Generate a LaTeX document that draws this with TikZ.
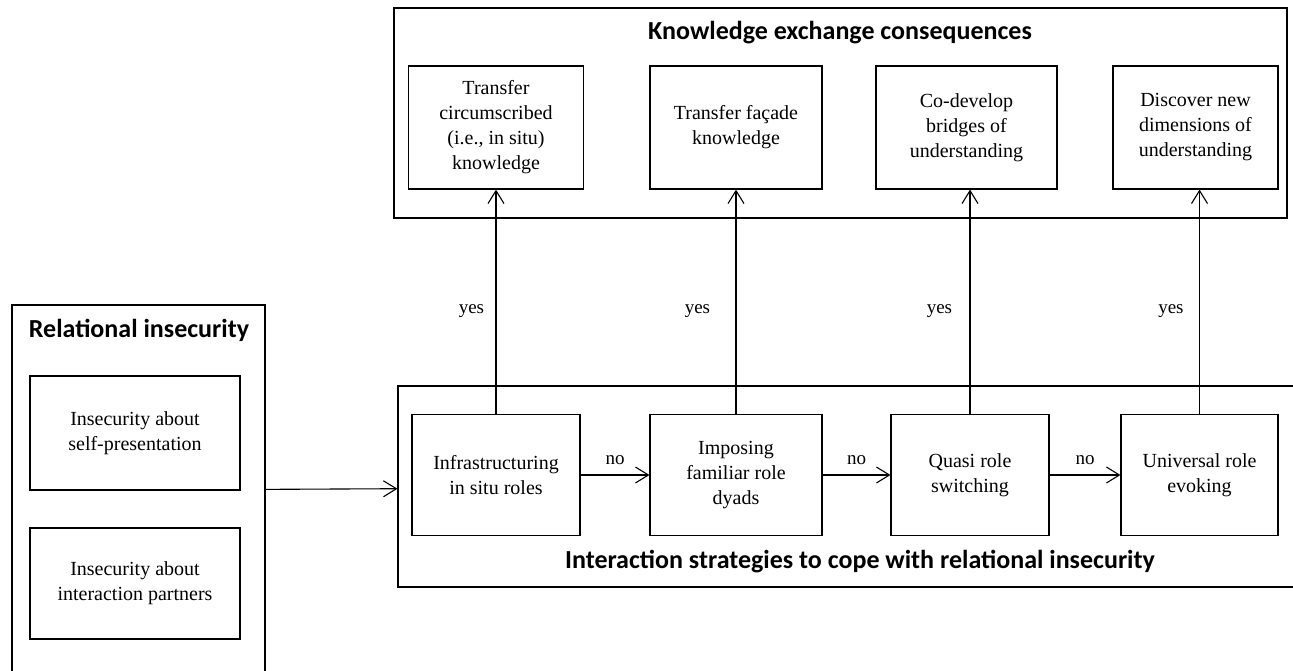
\documentclass[tikz,border=0pt]{standalone}
\usepackage{fontspec}
\setmainfont{Liberation Serif}
\newfontfamily\calibri{Carlito}
\usetikzlibrary{arrows.meta}
\tikzset{>={Straight Barb[length=13pt,width=16pt]},
  base/.style = {
    rectangle, draw=black, line width=1.1pt, align=center,
    font=\fontsize{20}{25}\selectfont
  },
  frame/.style = {base},
  box/.style = {base, minimum height=121pt},
  heading/.style = {font=\calibri\bfseries\fontsize{26}{30}\selectfont},
  lbl/.style = {font=\fontsize{19}{22}\selectfont},
}
\begin{document}
\begin{tikzpicture}[x=1pt, y=-1pt, line width=1.1pt, node distance=240pt]
  \useasboundingbox (0,0) rectangle (1293,671);
  \node (rel) [frame, minimum width=253pt, minimum height=370pt] at (138.5,490) {};
  \node (rel_t) [heading] at (139,330) {Relational insecurity};
  \node (self) [base, minimum width=210pt, minimum height=114pt] at (135,433) {Insecurity about\\self-presentation};
  \node (part) [base, minimum width=210pt, minimum height=111pt, below of=self, node distance=150.5pt] {Insecurity about\\interaction partners};
  \node (strat) [frame, minimum width=898pt, minimum height=201pt] at (847,486.5) {};
  \node (strat_t) [heading] at (860,562) {Interaction strategies to cope with relational insecurity};
  \node (infra) [box, minimum width=168pt] at (496,475) {Infrastructuring\\in situ roles};
  \node (impo) [box, minimum width=172pt, right of=infra] {Imposing\\familiar role\\dyads};
  \node (quasi) [box, minimum width=158pt, right of=impo, node distance=234pt] {Quasi role\\switching};
  \node (univ) [box, minimum width=157pt, right of=quasi, node distance=229.5pt] {Universal role\\evoking};
  \node (know) [frame, minimum width=893pt, minimum height=210pt] at (840.5,113) {};
  \node (know_t) [heading] at (840,33) {Knowledge exchange consequences};
  \node (tcir) [box, minimum width=175pt, minimum height=123pt, above of=infra, node distance=347.5pt] {Transfer\\circumscribed\\(i.e., in situ)\\knowledge};
  \node (tfac) [box, minimum width=172pt, minimum height=123pt, above of=impo, node distance=347.5pt] {Transfer façade\\knowledge};
  \node (tbri) [box, minimum width=181pt, minimum height=123pt, above of=quasi, node distance=347.5pt, xshift=-3.5pt] {Co-develop\\bridges of\\understanding};
  \node (tdim) [box, minimum width=165pt, minimum height=123pt, above of=univ, node distance=347.5pt, xshift=-4pt] {Discover new\\dimensions of\\understanding};
  \draw[->] (rel) -- (strat);
  \draw[->] (infra) -- node[lbl, above, yshift=6pt] {no} (impo);
  \draw[->] (impo) -- node[lbl, above, yshift=6pt] {no} (quasi);
  \draw[->] (quasi) -- node[lbl, above, yshift=6pt] {no} (univ);
  \draw[->] (infra.north) -- node[lbl, left, pos=0.46, xshift=-8pt] {yes} (infra.north |- tcir.south);
  \draw[->] (impo.north) -- node[lbl, left, pos=0.46, xshift=-22pt] {yes} (impo.north |- tfac.south);
  \draw[->] (quasi.north) -- node[lbl, left, pos=0.46, xshift=-14pt] {yes} (quasi.north |- tbri.south);
  \draw[->] (univ.north) -- node[lbl, left, pos=0.46, xshift=-12pt] {yes} (univ.north |- tdim.south);
\end{tikzpicture}
\end{document}
